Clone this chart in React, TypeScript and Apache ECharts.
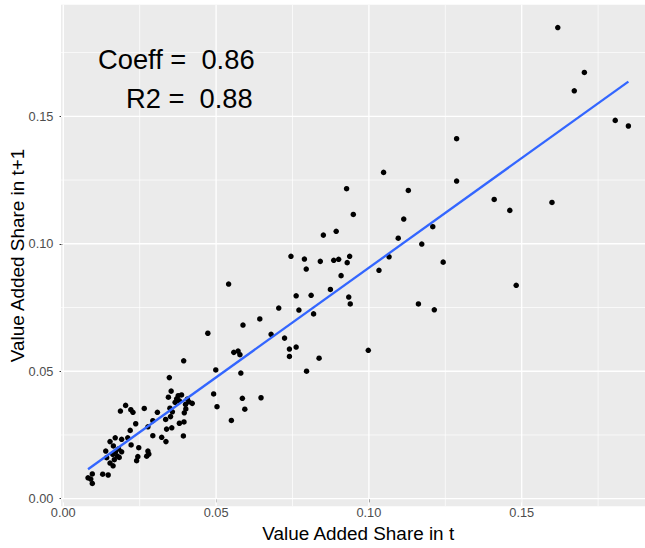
import React, { useEffect, useRef } from "react";
import * as echarts from "echarts";

// Value added share in t (x) against value added share in t+1 (y)
const shareT: number[] = [
  0.1618, 0.1705, 0.1672, 0.1806, 0.1849, 0.141, 0.1461, 0.1599, 0.1482,
  0.1287, 0.1287, 0.1129, 0.1114, 0.1209, 0.1173, 0.1243, 0.1162, 0.1214,
  0.1048, 0.0927, 0.0949, 0.0851, 0.0893, 0.1096, 0.0745, 0.0789, 0.0795,
  0.0841, 0.0885, 0.0901, 0.0937, 0.0929, 0.1066, 0.0909, 0.1033, 0.0874,
  0.0762, 0.0811, 0.0934, 0.0939, 0.0771, 0.0819, 0.0762, 0.0837, 0.0998,
  0.0796, 0.0541, 0.0705, 0.0643, 0.0588, 0.0473, 0.068, 0.0724, 0.0558,
  0.0572, 0.0578, 0.074, 0.074, 0.0499, 0.0581, 0.0492, 0.0586, 0.0647,
  0.0503, 0.0594, 0.055, 0.0394, 0.0347, 0.0353, 0.0344, 0.0376, 0.0387,
  0.0371, 0.0366, 0.038, 0.0406, 0.0411, 0.0422, 0.04, 0.0401, 0.0396,
  0.0349, 0.0357, 0.0308, 0.0293, 0.0335, 0.0351, 0.038, 0.0395, 0.0338,
  0.0355, 0.0293, 0.0322, 0.0336, 0.0393, 0.0204, 0.0187, 0.0221, 0.0228,
  0.0265, 0.0237, 0.0277, 0.0219, 0.017, 0.0191, 0.0211, 0.0153, 0.0164,
  0.0222, 0.0247, 0.0181, 0.0139, 0.0171, 0.0191, 0.0162, 0.0177, 0.0183,
  0.0142, 0.0167, 0.0153, 0.0163, 0.0244, 0.024, 0.0277, 0.028, 0.0273,
  0.0129, 0.0147, 0.0095, 0.0081, 0.009, 0.0095,
];

const shareT1: number[] = [
  0.1848, 0.1672, 0.16, 0.1484, 0.1462, 0.1174, 0.1131, 0.1162, 0.0837,
  0.1412, 0.1246, 0.1209, 0.1097, 0.1067, 0.0999, 0.0928, 0.0764, 0.0741,
  0.128, 0.1216, 0.1115, 0.1034, 0.1049, 0.1022, 0.0951, 0.094, 0.0901,
  0.0931, 0.0935, 0.0939, 0.0951, 0.0926, 0.0949, 0.0875, 0.0896, 0.0821,
  0.0796, 0.0798, 0.0791, 0.0764, 0.074, 0.0725, 0.0595, 0.0551, 0.0582,
  0.05, 0.0842, 0.0748, 0.0705, 0.0681, 0.0649, 0.0645, 0.063, 0.0574,
  0.0579, 0.0565, 0.0587, 0.0558, 0.0505, 0.0493, 0.0411, 0.0394, 0.0396,
  0.0361, 0.0351, 0.0307, 0.0541, 0.0475, 0.0422, 0.0398, 0.0404, 0.0407,
  0.0392, 0.0378, 0.0384, 0.0391, 0.038, 0.0374, 0.037, 0.0352, 0.0337,
  0.0355, 0.0341, 0.0339, 0.0306, 0.0311, 0.0322, 0.0296, 0.0301, 0.0273,
  0.0278, 0.0247, 0.0241, 0.0224, 0.0246, 0.0366, 0.0344, 0.0349, 0.0339,
  0.0354, 0.0294, 0.0282, 0.0268, 0.0239, 0.0233, 0.0239, 0.0224, 0.0207,
  0.0211, 0.02, 0.0195, 0.0187, 0.0184, 0.0184, 0.0174, 0.0167, 0.0162,
  0.0161, 0.0153, 0.014, 0.0129, 0.0165, 0.0149, 0.0187, 0.0175, 0.0167,
  0.0096, 0.0093, 0.0097, 0.0082, 0.0077, 0.006,
];

// Fitted linear model
const coeff = 0.86;
const intercept = 0.0046;
const r2 = 0.88;

// Axis breaks
const majorBreaks: number[] = [0, 0.05, 0.1, 0.15];
const minorBreaks: number[] = [0.025, 0.075, 0.125, 0.175];

const FONT = "'Liberation Sans', Arial, Helvetica, sans-serif";

function expandRange(vals: number[]): [number, number] {
  const lo = Math.min(...vals);
  const hi = Math.max(...vals);
  const pad = (hi - lo) * 0.05;
  return [lo - pad, hi + pad];
}

export default function App() {
  const ref = useRef<HTMLDivElement>(null);

  useEffect(() => {
    if (!ref.current) return;
    const chart = echarts.init(ref.current, undefined, { renderer: "svg" });

    const [xLo, xHi] = expandRange(shareT);
    const [yLo, yHi] = expandRange(shareT1);
    const xMinData = Math.min(...shareT);
    const xMaxData = Math.max(...shareT);

    const gridSeries: any[] = [];
    const addGrid = (vals: number[], width: number) => {
      vals.forEach((v) => {
        if (v >= xLo && v <= xHi) {
          gridSeries.push({
            type: "line",
            data: [
              [v, yLo],
              [v, yHi],
            ],
            symbol: "none",
            silent: true,
            z: 1,
            lineStyle: { color: "#FFFFFF", width },
          });
        }
        if (v >= yLo && v <= yHi) {
          gridSeries.push({
            type: "line",
            data: [
              [xLo, v],
              [xHi, v],
            ],
            symbol: "none",
            silent: true,
            z: 1,
            lineStyle: { color: "#FFFFFF", width },
          });
        }
      });
    };
    addGrid(minorBreaks, 0.7);
    addGrid(majorBreaks, 1.3);

    const axisCommon = {
      type: "value" as const,
      splitLine: { show: false },
      axisLine: { show: false },
      nameLocation: "middle" as const,
      nameMoveOverlap: false,
      nameTextStyle: { fontFamily: FONT, fontSize: 18.9, color: "#000000" },
    };

    chart.setOption({
      animation: false,
      backgroundColor: "#FFFFFF",
      grid: {
        left: 61,
        right: 0.6,
        top: 4.8,
        bottom: 41.8,
        containLabel: false,
        outerBoundsMode: "none",
        show: true,
        backgroundColor: "#EBEBEB",
        borderWidth: 0,
      },
      xAxis: {
        ...axisCommon,
        min: xLo,
        max: xHi,
        name: "Value Added Share in t",
        nameGap: 17.5,
        axisTick: {
          show: true,
          customValues: majorBreaks,
          length: 3.7,
          lineStyle: { color: "#333333", width: 1 },
        },
        axisLabel: {
          customValues: majorBreaks,
          formatter: (v: number) => v.toFixed(2),
          fontFamily: FONT,
          fontSize: 12.8,
          color: "#4D4D4D",
          margin: 0,
        },
      },
      yAxis: {
        ...axisCommon,
        min: yLo,
        max: yHi,
        name: "Value Added Share in t+1",
        nameGap: 34,
        nameRotate: 90,
        axisTick: {
          show: true,
          customValues: majorBreaks,
          length: 3.7,
          lineStyle: { color: "#333333", width: 1 },
        },
        axisLabel: {
          customValues: majorBreaks,
          formatter: (v: number) => v.toFixed(2),
          fontFamily: FONT,
          fontSize: 12.8,
          color: "#4D4D4D",
          margin: 7.5,
        },
      },
      series: [
        ...gridSeries,
        {
          type: "scatter",
          data: shareT.map((x, i) => [x, shareT1[i]]),
          symbol: "circle",
          symbolSize: 5.5,
          itemStyle: { color: "#000000", opacity: 1 },
          silent: true,
          z: 3,
        },
        {
          type: "line",
          data: [
            [xMinData, intercept + coeff * xMinData],
            [xMaxData, intercept + coeff * xMaxData],
          ],
          symbol: "none",
          silent: true,
          z: 4,
          lineStyle: { color: "#3366FF", width: 2.3 },
        },
      ],
      graphic: [
        {
          type: "text",
          left: 98,
          top: 46,
          z: 10,
          style: {
            text: `Coeff =  ${coeff.toFixed(2)}`,
            fontFamily: FONT,
            fontSize: 27.3,
            fill: "#000000",
          },
        },
        {
          type: "text",
          left: 126,
          top: 85,
          z: 10,
          style: {
            text: `R2 =  ${r2.toFixed(2)}`,
            fontFamily: FONT,
            fontSize: 27.3,
            fill: "#000000",
          },
        },
      ],
    });

    return () => chart.dispose();
  }, []);

  return (
    <div
      style={{
        position: "absolute",
        left: 0,
        top: 0,
        width: 645,
        height: 548,
        overflow: "hidden",
        background: "#FFFFFF",
      }}
    >
      <div ref={ref} style={{ width: 656, height: 548 }} />
    </div>
  );
}
